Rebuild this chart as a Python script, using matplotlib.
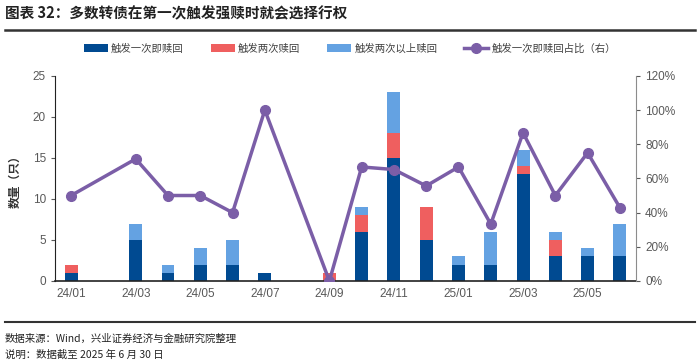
import numpy as np
import matplotlib.pyplot as plt
from matplotlib.ticker import PercentFormatter

plt.rcParams['font.family'] = ['Noto Sans CJK SC', 'DejaVu Sans']

# data
months = ['24/01', '24/02', '24/03', '24/04', '24/05', '24/06', '24/07', '24/08', '24/09',
          '24/10', '24/11', '24/12', '25/01', '25/02', '25/03', '25/04', '25/05', '25/06']
once = [1, 0, 5, 1, 2, 2, 1, 0, 0, 6, 15, 5, 2, 2, 13, 3, 3, 3]
twice = [1, 0, 0, 0, 0, 0, 0, 0, 1, 2, 3, 4, 0, 0, 1, 2, 0, 0]
more = [0, 0, 2, 1, 2, 3, 0, 0, 0, 1, 5, 0, 1, 4, 2, 1, 1, 4]
ratio = [50, np.nan, 71.4, 50, 50, 40, 100, np.nan, 0, 66.7, 65.2, 55.6, 66.7, 33.3,
         86.7, 50, 75, 42.9]

c_dark = '#004a91'
c_red = '#ef5f5f'
c_light = '#64a2e2'
c_purple = '#7b5ea7'
c_tick = '#595959'

x = np.arange(len(months))
once = np.array(once)
twice = np.array(twice)
more = np.array(more)
ratio = np.array(ratio)

fig = plt.figure(figsize=(7, 3.63), dpi=100)
ax = fig.add_axes([0.0786, 0.226, 0.830, 0.565])
ax2 = ax.twinx()

w = 0.4
b1 = ax.bar(x, once, w, color=c_dark, label='触发一次即赎回', zorder=2)
b2 = ax.bar(x, twice, w, bottom=once, color=c_red, label='触发两次赎回', zorder=2)
b3 = ax.bar(x, more, w, bottom=once + twice, color=c_light, label='触发两次以上赎回', zorder=2)

ok = ~np.isnan(ratio)
l1, = ax2.plot(x[ok], ratio[ok], color=c_purple, lw=2.5, marker='o', ms=7,
               label='触发一次即赎回占比（右）', zorder=3)

ax.set_xlim(-0.5, 17.5)
ax.set_ylim(0, 25)
ax.set_yticks([0, 5, 10, 15, 20, 25])
ax2.set_ylim(0, 120)
ax2.set_yticks(np.arange(0, 121, 20))
ax2.yaxis.set_major_formatter(PercentFormatter(decimals=0))
ax.set_xticks(x[::2])
ax.set_xticklabels(months[::2])

ax.set_zorder(ax2.get_zorder() - 1)
ax.patch.set_visible(False)

for a in (ax, ax2):
    a.spines['top'].set_visible(False)
    a.tick_params(labelsize=8.5, colors=c_tick, length=3, width=0.8)
    for lab in a.get_xticklabels() + a.get_yticklabels():
        lab.set_family(['Liberation Sans', 'Noto Sans CJK SC'])
ax.spines['right'].set_visible(False)
ax2.spines['left'].set_visible(False)
ax2.spines['bottom'].set_visible(False)
ax2.spines['right'].set_color('#8c8c8c')
ax.spines['left'].set_color('#222222')
ax.spines['bottom'].set_color('#222222')
ax.spines['bottom'].set_linewidth(1.2)
ax.tick_params(axis='x', length=0, pad=5)

ax.set_ylabel('数量（只）', fontsize=8.5, fontweight='bold', color='#333333', labelpad=8)

fig.legend(handles=[b1, b2, b3, l1], loc='center', bbox_to_anchor=(0.5, 0.866), ncol=4,
           frameon=False, fontsize=7.5, handlelength=2.3, columnspacing=2.6,
           labelcolor='#404040', handletextpad=0.3)

# title and footer
fig.text(0.007, 0.962, '图表 32：多数转债在第一次触发强赎时就会选择行权', fontsize=10.5,
         fontweight='bold', ha='left', va='center', color='#222222')
fig.add_artist(plt.Line2D([0.007, 0.993], [0.916, 0.916], color='#333333', lw=1.8))
fig.add_artist(plt.Line2D([0.007, 0.993], [0.112, 0.112], color='#333333', lw=1.5))
fig.text(0.007, 0.068, '数据来源：Wind，兴业证券经济与金融研究院整理', fontsize=7.5,
         ha='left', va='center', color='#222222')
fig.text(0.007, 0.022, '说明：数据截至 2025 年 6 月 30 日', fontsize=7.5,
         ha='left', va='center', color='#222222')

fig.savefig('out.png', dpi=100)
